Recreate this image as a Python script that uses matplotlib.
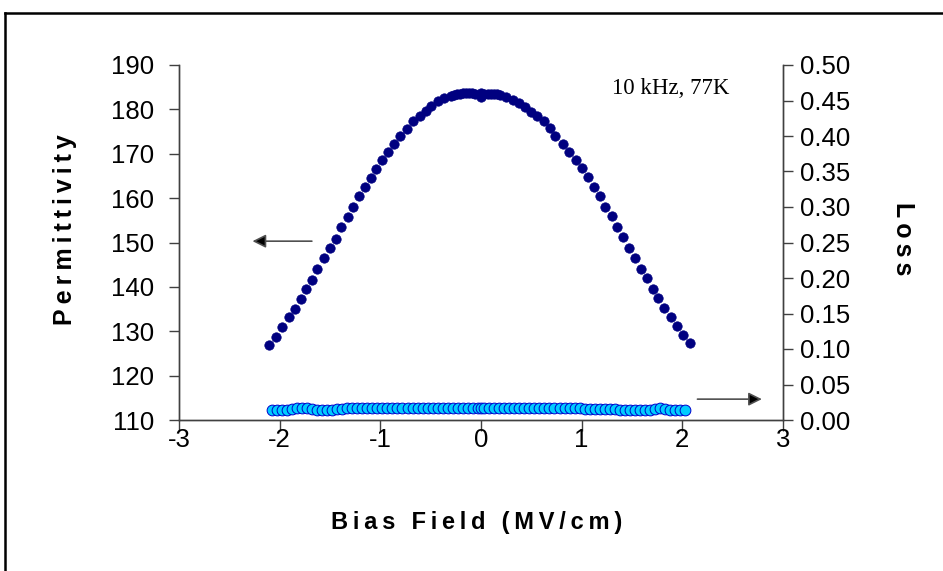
import matplotlib.pyplot as plt
from matplotlib.lines import Line2D
from matplotlib.ticker import FormatStrFormatter

# permittivity (left axis)
perm_field = [-2.11, -2.04, -1.98, -1.91, -1.85, -1.79, -1.74, -1.68, -1.63, -1.56,
              -1.50, -1.44, -1.39, -1.32, -1.27, -1.21, -1.15, -1.09, -1.04, -0.98,
              -0.92, -0.86, -0.80, -0.74, -0.68, -0.61, -0.55, -0.50, -0.43, -0.37,
              -0.30, -0.27, -0.24, -0.21, -0.18, -0.15, -0.12, -0.09, -0.06, 0.00,
              0.00, 0.03, 0.07, 0.10, 0.13, 0.16, 0.19, 0.25, 0.32, 0.38,
              0.44, 0.50, 0.56, 0.63, 0.69, 0.74, 0.81, 0.87, 0.94, 1.00,
              1.06, 1.12, 1.18, 1.23, 1.30, 1.35, 1.41, 1.47, 1.53, 1.59,
              1.65, 1.71, 1.76, 1.82, 1.89, 1.95, 2.01, 2.08]
permittivity = [126.8, 128.8, 131.0, 133.2, 135.1, 137.3, 139.5, 141.6, 144.1, 146.4,
                148.8, 150.8, 153.4, 155.7, 158.0, 160.4, 162.5, 164.6, 166.6, 168.6,
                170.5, 172.2, 174.1, 175.6, 177.3, 178.5, 179.7, 180.8, 181.8, 182.5,
                183.1, 183.3, 183.4, 183.5, 183.6, 183.7, 183.6, 183.6, 183.4, 183.6,
                182.9, 183.5, 183.5, 183.5, 183.4, 183.4, 183.3, 182.9, 182.1, 181.4,
                180.6, 179.5, 178.6, 177.3, 175.8, 173.9, 172.2, 170.5, 168.6, 166.8,
                164.7, 162.5, 160.4, 158.0, 155.9, 153.4, 151.2, 148.8, 146.5, 144.1,
                142.0, 139.6, 137.5, 135.3, 133.2, 131.2, 129.1, 127.3]

# loss (right axis)
loss_field = [-2.08, -2.03, -1.98, -1.93, -1.88, -1.83, -1.78, -1.73, -1.68, -1.63,
              -1.58, -1.53, -1.48, -1.43, -1.38, -1.33, -1.28, -1.23, -1.18, -1.13,
              -1.08, -1.03, -0.98, -0.93, -0.88, -0.83, -0.78, -0.73, -0.68, -0.63,
              -0.58, -0.53, -0.48, -0.43, -0.38, -0.33, -0.28, -0.23, -0.18, -0.13,
              -0.08, -0.03, 0.00, 0.03, 0.08, 0.13, 0.18, 0.23, 0.28, 0.33,
              0.38, 0.43, 0.48, 0.53, 0.58, 0.63, 0.68, 0.73, 0.78, 0.83,
              0.88, 0.93, 0.98, 1.03, 1.08, 1.13, 1.18, 1.23, 1.28, 1.33,
              1.38, 1.43, 1.48, 1.53, 1.58, 1.63, 1.68, 1.73, 1.78, 1.83,
              1.88, 1.93, 1.98, 2.03]
loss = [0.0135, 0.0135, 0.0135, 0.0140, 0.0160, 0.0170, 0.0170, 0.0165, 0.0160, 0.0145,
        0.0140, 0.0140, 0.0145, 0.0150, 0.0160, 0.0165, 0.0165, 0.0165, 0.0168, 0.0168,
        0.0170, 0.0170, 0.0172, 0.0172, 0.0172, 0.0172, 0.0172, 0.0172, 0.0172, 0.0172,
        0.0172, 0.0172, 0.0172, 0.0172, 0.0172, 0.0172, 0.0172, 0.0172, 0.0172, 0.0172,
        0.0172, 0.0172, 0.0168, 0.0172, 0.0172, 0.0172, 0.0172, 0.0172, 0.0172, 0.0172,
        0.0172, 0.0172, 0.0172, 0.0172, 0.0172, 0.0170, 0.0170, 0.0170, 0.0170, 0.0170,
        0.0170, 0.0168, 0.0165, 0.0160, 0.0158, 0.0155, 0.0155, 0.0155, 0.0150, 0.0150,
        0.0145, 0.0140, 0.0140, 0.0140, 0.0138, 0.0140, 0.0145, 0.0160, 0.0165, 0.0155,
        0.0140, 0.0138, 0.0138, 0.0138]

plt.rcParams['font.family'] = ['Liberation Sans', 'DejaVu Sans']
plt.rcParams['axes.unicode_minus'] = False


def spaced(s):
    # the original labels are drawn with wide letter spacing
    return '\u2009'.join(s)


W, H = 943, 571
fig = plt.figure(figsize=(W / 100, H / 100), dpi=100)
ax = fig.add_axes([179 / W, 1 - 420 / H, 604 / W, 355 / H])
ax2 = ax.twinx()

ax.scatter(perm_field, permittivity, s=46, color='#000080', edgecolors='#000080',
           linewidths=0.5, zorder=3)
ax2.scatter(loss_field, loss, s=60, color='#00CCFF', edgecolors='#0000CC',
            linewidths=0.7, zorder=3)

ax.set_xlim(-3, 3)
ax.set_ylim(110, 190)
ax2.set_ylim(0, 0.5)
ax.set_xticks(range(-3, 4))
ax.set_yticks(range(110, 191, 10))
ax2.set_yticks([i * 0.05 for i in range(11)])
ax2.yaxis.set_major_formatter(FormatStrFormatter('%.2f'))

for a in (ax, ax2):
    a.spines['top'].set_visible(False)
    for s in ('left', 'right', 'bottom'):
        a.spines[s].set_color('#404040')
        a.spines[s].set_linewidth(1.0)
    a.tick_params(direction='out', length=7, width=1, color='#404040',
                  labelsize=18.5)
ax.tick_params(axis='y', pad=11)
ax2.tick_params(axis='y', pad=5)
ax.tick_params(axis='x', length=8, pad=-2)

fig.text(477 / W, 1 - 523 / H, spaced('Bias Field (MV/cm)'), fontsize=17,
         fontweight='bold', ha='center', va='center')
fig.text(65 / W, 1 - 230 / H, spaced('Permittivity'), fontsize=18,
         fontweight='bold', ha='center', va='center', rotation=90)
fig.text(903 / W, 1 - 239 / H, spaced('Loss'), fontsize=18,
         fontweight='bold', ha='center', va='center', rotation=-90)

ax.text(1.30, 184.8, '10 kHz, 77K', fontsize=16.5, family=['Liberation Serif'],
        va='center', ha='left')

arrow = dict(arrowstyle='-|>', ec='#505050', fc='black', lw=1.2,
             mutation_scale=20, shrinkA=0, shrinkB=0)
ax.annotate('', xy=(-2.27, 150.3), xytext=(-1.68, 150.3), arrowprops=arrow)
ax.annotate('', xy=(2.79, 114.7), xytext=(2.15, 114.7), arrowprops=arrow,
            annotation_clip=False)

# outer frame (only top and left edges fall inside the image)
fig.add_artist(Line2D([5 / W, 5 / W], [0, 1 - 13 / H], color='black', lw=1.8))
fig.add_artist(Line2D([5 / W, 1], [1 - 13 / H, 1 - 13 / H], color='black', lw=1.8))

fig.savefig('out.png', dpi=100)
